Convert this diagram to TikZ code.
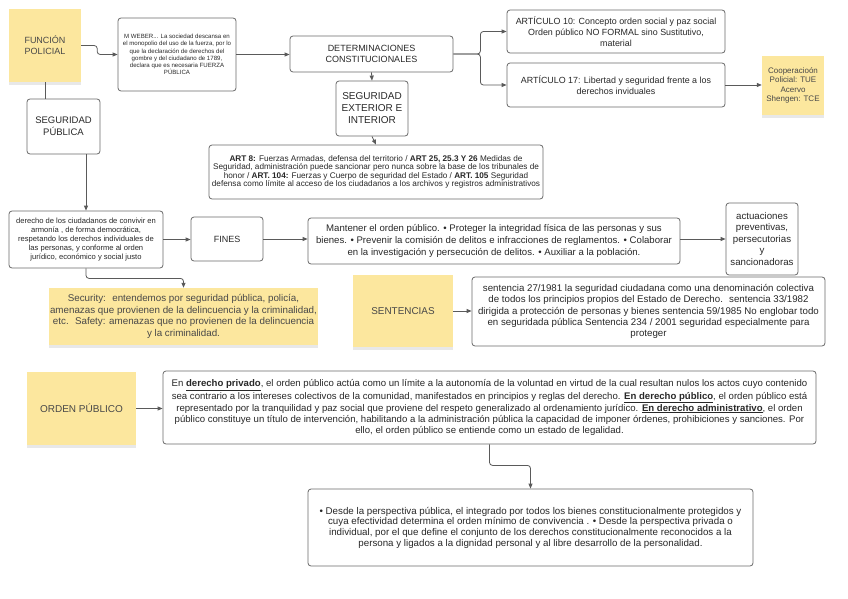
\documentclass[tikz,border=0pt]{standalone}
\usepackage{fontspec}
\setmainfont{Liberation Sans}
\usetikzlibrary{arrows.meta,shadows}
\definecolor{stickyfill}{RGB}{252,231,158}
\definecolor{boxline}{RGB}{105,105,105}
\definecolor{linkgray}{RGB}{90,90,90}
\definecolor{inktext}{RGB}{40,40,40}

\begin{document}
\begin{tikzpicture}[x=1pt,y=-1pt,
    box/.style={draw=boxline,line width=0.8pt,rounded corners=3pt,fill=white,align=center,text=inktext,inner sep=1pt},
    sticky/.style={fill=stickyfill,align=center,text=inktext!85,inner sep=1pt,
      drop shadow={shadow xshift=0pt,shadow yshift=-3pt,opacity=0.18}},
    link/.style={draw=linkgray,line width=0.8pt,rounded corners=3pt},
    arr/.style={link,-{Triangle[length=5pt,width=4pt]}}]
      \fill[white] (0,0) rectangle (848,599);
      \useasboundingbox (0,0) rectangle (848,599);
      % upper part
      \node[sticky,minimum width=72pt,minimum height=73pt,font=\fontsize{9}{11}\selectfont] (funcion) at (45,45.5) {FUNCIÓN\\POLICIAL};
      \node[box,minimum width=118pt,minimum height=73pt,font=\fontsize{6.1}{7.3}\selectfont] (weber) at (177,54.5) {M WEBER... La sociedad descansa en\\el monopolio del uso de la fuerza, por lo\\que la declaración de derechos del\\gombre y del ciudadano de 1789,\\declara que es necesaria FUERZA\\PÚBLICA};
      \node[box,minimum width=163pt,minimum height=36pt,font=\fontsize{9}{11}\selectfont] (determ) at (371.5,54) {DETERMINACIONES\\CONSTITUCIONALES};
      \node[box,minimum width=72pt,minimum height=55pt,font=\fontsize{10}{12}\selectfont] (segext) at (372,108.5) {SEGURIDAD\\EXTERIOR E\\INTERIOR};
      \node[box,minimum width=218pt,minimum height=43pt,font=\fontsize{8.9}{11}\selectfont] (art10) at (616,31.5) {ARTÍCULO 10: Concepto orden social y paz social\\Orden público NO FORMAL sino Sustitutivo,\\material};
      \node[box,minimum width=218pt,minimum height=44pt,font=\fontsize{8.9}{10.5}\selectfont] (art17) at (616,85) {ARTÍCULO 17: Libertad y seguridad frente a los\\derechos inviduales};
      \node[sticky,minimum width=62pt,minimum height=59pt,font=\fontsize{8}{9.5}\selectfont] (coop) at (793,85.5) {Cooperacioón\\Policial: TUE\\Acervo\\Shengen: TCE};
      \node[box,minimum width=73pt,minimum height=55pt,font=\fontsize{9.5}{12}\selectfont] (segpub) at (63.5,126.5) {SEGURIDAD\\PÚBLICA};
      \node[box,minimum width=334pt,minimum height=54pt,font=\fontsize{8.2}{8.4}\selectfont] (art8) at (376,172) {\textbf{ART 8:} Fuerzas Armadas, defensa del territorio / \textbf{ART 25, 25.3 Y 26} Medidas de\\Seguridad, administración puede sancionar pero nunca sobre la base de los tribunales de\\honor / \textbf{ART. 104:} Fuerzas y Cuerpo de seguridad del Estado / \textbf{ART. 105} Seguridad\\defensa como límite al acceso de los ciudadanos a los archivos y registros administrativos};
      % middle part
      \node[box,minimum width=154pt,minimum height=57pt,font=\fontsize{7.6}{9}\selectfont] (derecho) at (86,239.5) {derecho de los ciudadanos de convivir en\\armonía , de forma democrática,\\respetando los derechos individuales de\\las personas, y conforme al orden\\jurídico, económico y social justo};
      \node[box,minimum width=72pt,minimum height=44pt,font=\fontsize{9}{11}\selectfont] (fines) at (227,239) {FINES};
      \node[box,minimum width=372pt,minimum height=46pt,font=\fontsize{9.6}{12}\selectfont] (mantener) at (494,241) {Mantener el orden público. • Proteger la integridad física de las personas y sus\\bienes. • Prevenir la comisión de delitos e infracciones de reglamentos. • Colaborar\\en la investigación y persecución de delitos. • Auxiliar a la población.};
      \node[box,minimum width=72pt,minimum height=72pt,font=\fontsize{9.7}{11.5}\selectfont] (actuac) at (762,239) {actuaciones\\preventivas,\\persecutorias\\y\\sancionadoras};
      \node[sticky,minimum width=269pt,minimum height=57pt,font=\fontsize{9.8}{11.5}\selectfont] (security) at (183.5,316.5) {Security:~ entendemos por seguridad pública, policía,\\amenazas que provienen de la delincuencia y la criminalidad,\\etc.~ Safety: amenazas que no provienen de la delincuencia\\y la criminalidad.};
      \node[sticky,minimum width=100pt,minimum height=72pt,font=\fontsize{9.9}{11}\selectfont] (sentenc) at (403,311) {SENTENCIAS};
      \node[box,minimum width=353pt,minimum height=69pt,font=\fontsize{9.7}{11.3}\selectfont] (sentbox) at (648.5,311.5) {sentencia 27/1981 la seguridad ciudadana como una denominación colectiva\\de todos los principios propios del Estado de Derecho.~ sentencia 33/1982\\dirigida a protección de personas y bienes sentencia 59/1985 No englobar todo\\en seguridada pública Sentencia 234 / 2001 seguridad especialmente para\\proteger};
      % lower part
      \node[sticky,minimum width=109pt,minimum height=73pt,font=\fontsize{10}{11}\selectfont] (orden) at (81.5,408.5) {ORDEN PÚBLICO};
      \node[box,minimum width=653pt,minimum height=73pt,font=\fontsize{9.6}{11}\selectfont] (ordenbox) at (489.5,407.5) {En \underline{\textbf{derecho privado}}, el orden público actúa como un límite a la autonomía de la voluntad en virtud de la cual resultan nulos los actos cuyo contenido\\sea contrario a los intereses colectivos de la comunidad, manifestados en principios y reglas del derecho. \underline{\textbf{En derecho público}}, el orden público está\\representado por la tranquilidad y paz social que proviene del respeto generalizado al ordenamiento jurídico. \underline{\textbf{En derecho administrativo}}, el orden\\público constituye un título de intervención, habilitando a la administración pública la capacidad de imponer órdenes, prohibiciones y sanciones. Por\\ello, el orden público se entiende como un estado de legalidad.};
      \node[box,minimum width=445pt,minimum height=77pt,font=\fontsize{9.75}{10.7}\selectfont] (perspect) at (530.5,527.5) {• Desde la perspectiva pública, el integrado por todos los bienes constitucionalmente protegidos y\\cuya efectividad determina el orden mínimo de convivencia . • Desde la perspectiva privada o\\individual, por el que define el conjunto de los derechos constitucionalmente reconocidos a la\\persona y ligados a la dignidad personal y al libre desarrollo de la personalidad.};
      % connectors
      \draw[arr] (funcion.east) -- ++(16,0) |- (weber.west);
      \draw[arr] (weber.east) -- (weber.east -| determ.west);
      \draw[arr] (determ.east) -- ++(27,0) |- (art10.west);
      \draw[arr] (determ.east) -- ++(27,0) |- (art17.west);
      \draw[arr] (determ.south) -- (segext.north);
      \draw[arr] (segext.south) -- (art8.north);
      \draw[arr] (art17.east) -- (art17.east -| coop.west);
      \draw[link] (funcion.south) -- (funcion.south |- segpub.north);
      \draw[arr] (segpub.south -| derecho.north) -- (derecho.north);
      \draw[arr] (derecho.east) -- (derecho.east -| fines.west);
      \draw[arr] (fines.east) -- (fines.east -| mantener.west);
      \draw[arr] (mantener.east |- actuac.west) -- (actuac.west);
      \draw[arr] (derecho.south) -- ++(0,10) -| (security.north);
      \draw[arr] (sentenc.east) -- (sentenc.east -| sentbox.west);
      \draw[arr] (orden.east) -- (orden.east -| ordenbox.west);
      \draw[arr] (ordenbox.south) -- ++(0,21) -| (perspect.north);
    \end{tikzpicture}
\end{document}
